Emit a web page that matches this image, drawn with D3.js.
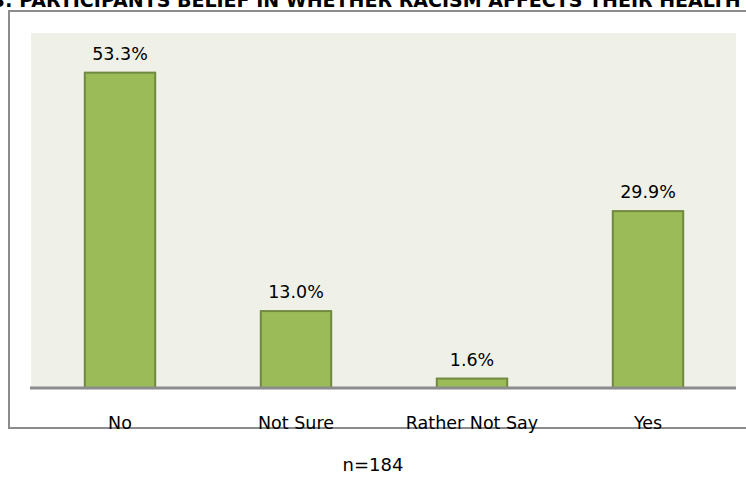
<!DOCTYPE html>
<html>
<head>
<meta charset="utf-8">
<script src="https://cdn.jsdelivr.net/npm/d3@7"></script>
<style>
  html, body { margin: 0; padding: 0; background: #fff; overflow: hidden; }
  svg { display: block; font-family: "DejaVu Sans", Verdana, sans-serif; }
</style>
</head>
<body>
<svg id="chart" width="746" height="485"></svg>
<script>
// Survey responses (percent of participants)
const categories = ["No", "Not Sure", "Rather Not Say", "Yes"];
const percents = [53.3, 13.0, 1.6, 29.9];
const valueLabels = ["53.3%", "13.0%", "1.6%", "29.9%"];
const titleText = "TABLE 3: PARTICIPANTS BELIEF IN WHETHER RACISM AFFECTS THEIR HEALTH";
const noteText = "n=184";

const svg = d3.select("#chart");

// Heading (runs past the page edges)
svg.append("text")
  .attr("x", 330).attr("y", 7)
  .attr("text-anchor", "middle")
  .attr("font-size", 19).attr("font-weight", "bold")
  .attr("fill", "#000")
  .text(titleText);

// Outer frame
svg.append("rect")
  .attr("x", 9).attr("y", 11)
  .attr("width", 760).attr("height", 417)
  .attr("fill", "#fff")
  .attr("stroke", "#8c8c8c").attr("stroke-width", 2);

const x = d3.scaleBand()
  .domain(categories)
  .range([32, 736])
  .paddingInner(0.6)
  .paddingOuter(0.3);

const y = d3.scaleLinear()
  .domain([0, 60])
  .range([388, 33]);

// Plot area background
svg.append("rect")
  .attr("x", 31).attr("y", y(60))
  .attr("width", 705).attr("height", y(0) - y(60))
  .attr("fill", "#eff1e9");

// Bars
svg.selectAll("rect.bar")
  .data(categories)
  .join("rect")
  .attr("class", "bar")
  .attr("x", d => x(d))
  .attr("y", (d, i) => y(percents[i]))
  .attr("width", x.bandwidth())
  .attr("height", (d, i) => y(0) - y(percents[i]))
  .attr("fill", "#9bbb59")
  .attr("stroke", "#71893f")
  .attr("stroke-width", 2);

// Value labels
svg.selectAll("text.val")
  .data(categories)
  .join("text")
  .attr("class", "val")
  .attr("x", d => x(d) + x.bandwidth() / 2)
  .attr("y", (d, i) => y(percents[i]) - 13)
  .attr("text-anchor", "middle")
  .attr("font-size", 17.5)
  .attr("fill", "#000")
  .text((d, i) => valueLabels[i]);

// Category axis
const axis = svg.append("g")
  .attr("transform", `translate(0,${y(0)})`)
  .call(d3.axisBottom(x).tickSize(0).tickPadding(29));
axis.select(".domain")
  .attr("d", "M30,0H736")
  .attr("stroke", "#8c8c8c").attr("stroke-width", 3);
axis.selectAll(".tick text")
  .attr("font-family", "DejaVu Sans, Verdana, sans-serif")
  .attr("font-size", 17.5)
  .attr("fill", "#000");

// Sample size note
svg.append("text")
  .attr("x", 373).attr("y", 471)
  .attr("text-anchor", "middle")
  .attr("font-size", 18)
  .attr("fill", "#000")
  .text(noteText);
</script>
</body>
</html>
